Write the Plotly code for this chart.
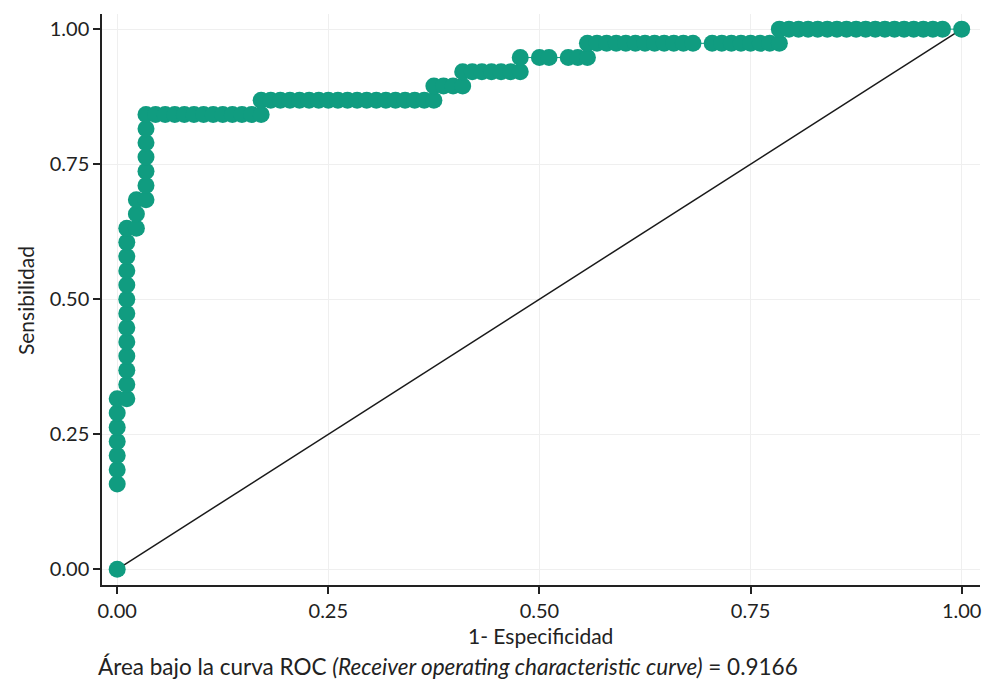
import plotly.graph_objects as go

# Curva ROC: 38 positivos, 88 negativos
n_pos = 38
n_neg = 88

# falsos positivos (conteo) y verdaderos positivos (conteo) en cada punto de corte
fp_counts = [0,
             0, 0, 0, 0, 0, 0, 0,
             1, 1, 1, 1, 1, 1, 1, 1, 1, 1, 1, 1, 1,
             2, 2, 2,
             3, 3, 3, 3, 3, 3, 3,
             4, 5, 6, 7, 8, 9, 10, 11, 12, 13, 14, 15,
             15, 16, 17, 18, 19, 20, 21, 22, 23, 24, 25, 26, 27, 28, 29, 30, 31, 32, 33,
             33, 34, 35, 36,
             36, 37, 38, 39, 40, 41, 42,
             42, 44, 45, 47, 48, 49,
             49, 50, 51, 52, 53, 54, 55, 56, 57, 58, 59, 60, 62, 63, 64, 65, 66, 67, 68, 69,
             69, 70, 71, 72, 73, 74, 75, 76, 77, 78, 79, 80, 81, 82, 83, 84, 85, 86, 88]
tp_counts = [0,
             6, 7, 8, 9, 10, 11, 12,
             12, 13, 14, 15, 16, 17, 18, 19, 20, 21, 22, 23, 24,
             24, 25, 26,
             26, 27, 28, 29, 30, 31, 32,
             32, 32, 32, 32, 32, 32, 32, 32, 32, 32, 32, 32,
             33, 33, 33, 33, 33, 33, 33, 33, 33, 33, 33, 33, 33, 33, 33, 33, 33, 33, 33,
             34, 34, 34, 34,
             35, 35, 35, 35, 35, 35, 35,
             36, 36, 36, 36, 36, 36,
             37, 37, 37, 37, 37, 37, 37, 37, 37, 37, 37, 37, 37, 37, 37, 37, 37, 37, 37, 37,
             38, 38, 38, 38, 38, 38, 38, 38, 38, 38, 38, 38, 38, 38, 38, 38, 38, 38, 38]

fpr = [c / n_neg for c in fp_counts]
tpr = [c / n_pos for c in tp_counts]

ref_x = [0, 1]
ref_y = [0, 1]
tick_vals = [0, 0.25, 0.5, 0.75, 1]
tick_text = ['0.00', '0.25', '0.50', '0.75', '1.00']
auc = 0.9166

teal = '#109c80'
dark = '#222222'
font_family = 'Lato, "Open Sans", sans-serif'

fig = go.Figure()

# línea de referencia
fig.add_trace(go.Scatter(x=ref_x, y=ref_y, mode='lines',
                         line=dict(color='#1a1a1a', width=1.5),
                         hoverinfo='skip', showlegend=False))

# línea que une los puntos (sin el tramo inicial desde el origen)
fig.add_trace(go.Scatter(x=fpr[1:], y=tpr[1:], mode='lines',
                         line=dict(color=teal, width=1),
                         hoverinfo='skip', showlegend=False))

# puntos de corte
fig.add_trace(go.Scatter(x=fpr, y=tpr, mode='markers',
                         marker=dict(color=teal, size=17, line=dict(width=0)),
                         showlegend=False))

axis_common = dict(
    tickvals=tick_vals, ticktext=tick_text,
    showgrid=True, gridcolor='#efefef', gridwidth=1,
    zeroline=False, automargin=False,
    showline=True, linecolor=dark, linewidth=1.5, mirror=False,
    ticks='outside', ticklen=7, tickwidth=1.5, tickcolor=dark,
    tickfont=dict(size=20, color=dark, family=font_family),
)

# la página añade ~8 px de margen al cuerpo; se compensa aquí
fig.update_layout(
    width=992, height=683,
    paper_bgcolor='white', plot_bgcolor='white',
    margin=dict(l=94, r=20, t=6, b=106),
    font=dict(family=font_family, color=dark),
    xaxis=dict(range=[-0.018, 1.0217], **axis_common),
    yaxis=dict(range=[-0.029, 1.028], **axis_common),
    annotations=[
        dict(text='1- Especificidad', xref='paper', yref='paper',
             x=0.4989, y=-0.0893, xanchor='center', yanchor='middle',
             showarrow=False, font=dict(size=21, color=dark)),
        dict(text='Sensibilidad', xref='paper', yref='paper', textangle=-90,
             x=-0.0877, y=0.499, xanchor='center', yanchor='middle',
             showarrow=False, font=dict(size=21, color=dark)),
        dict(text=f'Área bajo la curva ROC <i>(Receiver operating characteristic curve)</i> = {auc}',
             xref='paper', yref='paper', x=-0.0068, y=-0.1436,
             xanchor='left', yanchor='middle', showarrow=False,
             font=dict(size=22.5, color=dark)),
    ],
)

fig.write_html("out.html")
